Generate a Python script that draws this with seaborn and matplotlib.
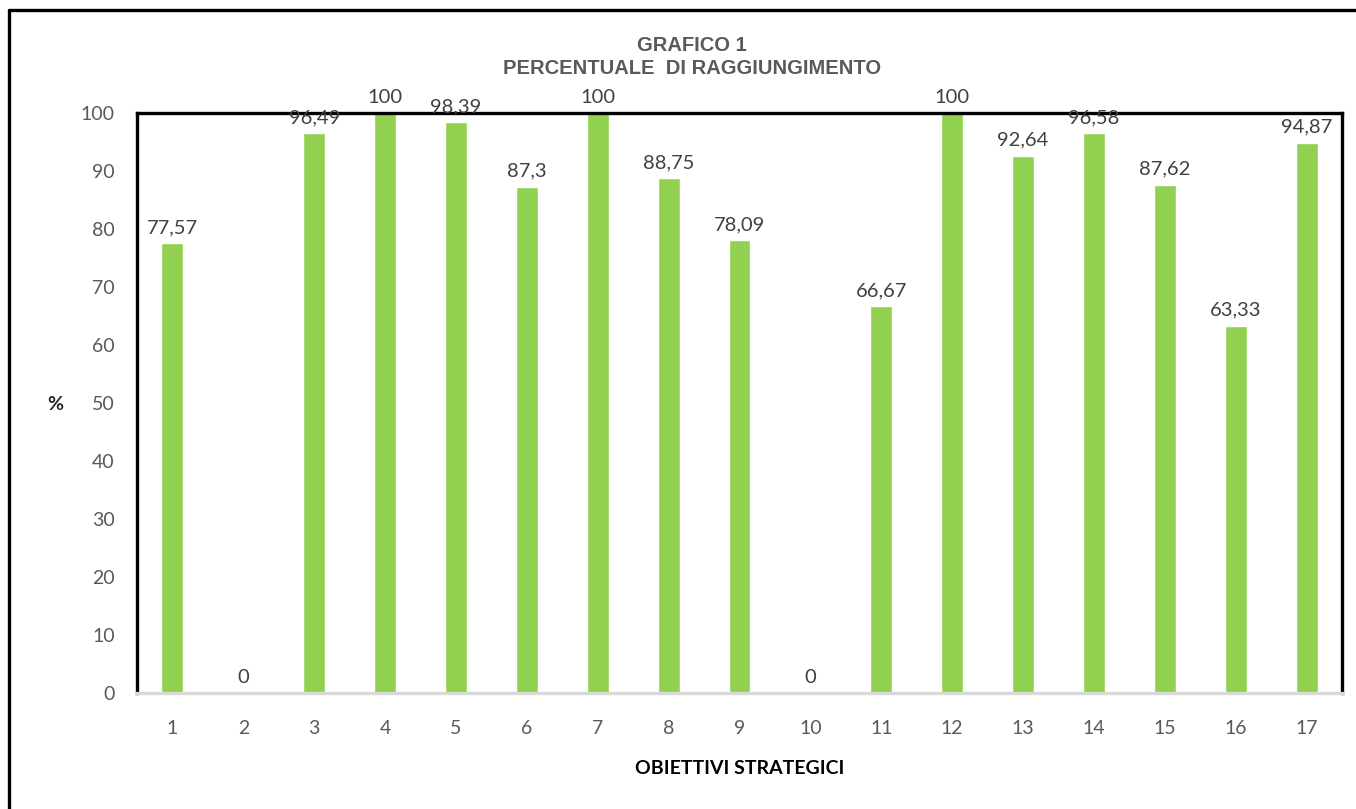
import matplotlib
matplotlib.use("Agg")
import matplotlib.pyplot as plt
from matplotlib.lines import Line2D
import seaborn as sns
import numpy as np
import pandas as pd

# --- dati ---
obiettivi = [str(i) for i in range(1, 18)]
percentuali = [77.57, 0, 96.49, 100, 98.39, 87.3, 100, 88.75, 78.09, 0,
               66.67, 100, 92.64, 96.58, 87.62, 63.33, 94.87]
y_ticks = list(range(0, 101, 10))

BAR_COLOR = "#92d050"
GREY_TXT = "#595959"

sns.set_theme(style="white")
plt.rcParams['font.family'] = ['Lato', 'DejaVu Sans']

df = pd.DataFrame({"obiettivo": obiettivi, "perc": percentuali})

fig = plt.figure(figsize=(13.56, 8.09), dpi=100)
ax = fig.add_axes([0.101, 0.144, 0.8887, 0.7163])

sns.barplot(data=df, x="obiettivo", y="perc", color=BAR_COLOR, saturation=1,
            width=0.31, ax=ax)

ax.set_xlim(-0.5, len(obiettivi) - 0.5)
ax.set_ylim(0, 100)
ax.set_yticks(y_ticks)

# etichette dei valori
for i, v in enumerate(percentuali):
    ax.annotate(f"{v:g}".replace(".", ","), (i, v), xytext=(0, 5),
                textcoords="offset points", ha="center", va="bottom",
                fontsize=14.5, color="#404040", annotation_clip=False)

# bordi
for s in ["top", "right", "left"]:
    ax.spines[s].set_color("black")
    ax.spines[s].set_linewidth(2.4)
ax.spines["bottom"].set_color("#d9d9d9")
ax.spines["bottom"].set_linewidth(2.4)

ax.tick_params(axis="y", length=0, pad=16, labelsize=14, labelcolor=GREY_TXT)
ax.tick_params(axis="x", which="major", length=0, pad=20, labelsize=14,
               labelcolor=GREY_TXT)
ax.set_xticks(np.arange(-0.5, len(obiettivi), 1), minor=True)
ax.tick_params(axis="x", which="minor", length=6, width=2, color="#d9d9d9",
               direction="out")

ax.set_xlabel("OBIETTIVI STRATEGICI", fontsize=14, fontweight="bold",
              color="black", labelpad=16)
ax.set_ylabel("")
fig.text(55 / 1356, 1 - 405 / 809, "%", fontsize=14, fontweight="bold",
         ha="center", va="center")

fig.text(692 / 1356, 1 - 57 / 809, "GRAFICO 1\nPERCENTUALE  DI RAGGIUNGIMENTO",
         fontsize=14.5, fontweight="bold", color=GREY_TXT, ha="center",
         va="center", family="Liberation Sans", linespacing=1.32)

# cornice esterna
fig.add_artist(Line2D([9 / 1356, 9 / 1356], [0, 1 - 10 / 809],
                      transform=fig.transFigure, color="black", lw=2.4))
fig.add_artist(Line2D([9 / 1356, 1], [1 - 10 / 809, 1 - 10 / 809],
                      transform=fig.transFigure, color="black", lw=2.4))

fig.savefig("out.png", dpi=100)
